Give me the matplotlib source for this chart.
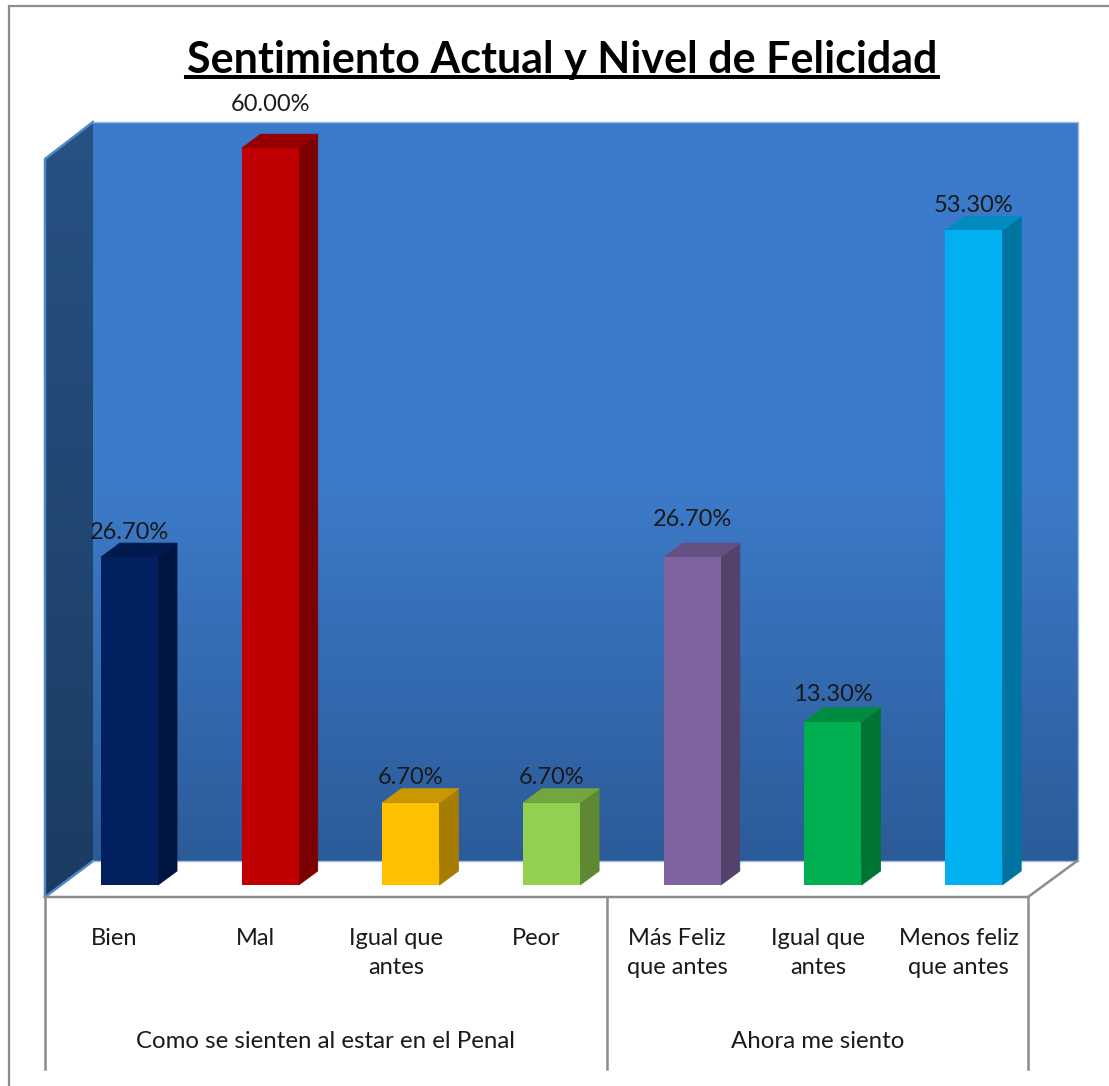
import numpy as np
import matplotlib
matplotlib.use('Agg')
import matplotlib.pyplot as plt
from matplotlib.patches import Polygon

plt.rcParams['font.family'] = ['Lato', 'DejaVu Sans']

# Datos
categorias = ['Bien', 'Mal', 'Igual que\nantes', 'Peor',
              'Más Feliz\nque antes', 'Igual que\nantes', 'Menos feliz\nque antes']
valores = [26.7, 60.0, 6.7, 6.7, 26.7, 13.3, 53.3]
etiquetas = ['26.70%', '60.00%', '6.70%', '6.70%', '26.70%', '13.30%', '53.30%']
grupos = ['Como se sienten al estar en el Penal', 'Ahora me siento']
titulo = 'Sentimiento Actual y Nivel de Felicidad'

# Colores de cada barra: frente, tapa, lado
col_frente = ['#00205f', '#c00000', '#ffc000', '#92d050', '#8064a2', '#00b050', '#00b0f0']
col_tapa = ['#001a4d', '#960000', '#c99700', '#74a63f', '#655082', '#008c40', '#008cbf']
col_lado = ['#00153f', '#7c0000', '#a67d00', '#5f8834', '#54426b', '#007434', '#0074a0']

W, H = 1109, 1086
fig = plt.figure(figsize=(W / 100, H / 100), dpi=100, facecolor='white')

# Ejes de fondo en pixeles (marco, paredes, lineas)
bg = fig.add_axes([0, 0, 1, 1])
bg.set_xlim(0, W)
bg.set_ylim(H, 0)
bg.axis('off')

gris = '#8c8c8c'
bg.plot([8.5, 8.5, W], [H, 6, 6], color=gris, lw=1.6, solid_joinstyle='miter')

# Pared del fondo con degradado
grad = np.linspace(0, 1, 256).reshape(-1, 1)
cmap_fondo = matplotlib.colors.LinearSegmentedColormap.from_list('f', ['#3b7bcb', '#3c7ac8', '#2c5b99'])
im = bg.imshow(grad, extent=[93, 1078, 861, 122], cmap=cmap_fondo, aspect='auto', zorder=1)
im.set_clip_path(Polygon([[93, 122], [1078, 122], [1078, 861], [93, 861]], transform=bg.transData))

# Pared izquierda
cmap_lado = matplotlib.colors.LinearSegmentedColormap.from_list('l', ['#275283', '#1b3c62'])
pared = [[45, 159], [93, 122], [93, 861], [45, 897]]
im2 = bg.imshow(grad, extent=[45, 93, 897, 122], cmap=cmap_lado, aspect='auto', zorder=1)
im2.set_clip_path(Polygon(pared, transform=bg.transData))
bg.plot([45, 45, 93], [897, 159, 122], color='#4f86c6', lw=1.8, zorder=2)
bg.plot([45, 93], [897, 861], color='#4f86c6', lw=1.8, zorder=2)
bg.plot([93, 1078, 1078], [122, 122, 861], color='#9fbce0', lw=1, zorder=2)
bg.plot([93, 1078], [861, 861], color='#9fbce0', lw=1, zorder=2)
bg.set_xlim(0, W)
bg.set_ylim(H, 0)

# Piso y divisiones del eje
bg.plot([45, 1028, 1077], [897, 897, 861], color=gris, lw=1.8, zorder=2)
for xv in [45, 607, 1028]:
    bg.plot([xv, xv], [897, 1069], color=gris, lw=1.8, zorder=2)

# Titulo subrayado
bg.text(562, 60, titulo, ha='center', va='center', fontsize=31, fontweight='bold', color='black', zorder=5)
bg.plot([186, 938], [77, 77], color='black', lw=2.9, zorder=5)

# Ejes de datos: 140.7 px por categoria, 12.28 px por punto
ax = fig.add_axes([0, 0, 1, 1])
ax.patch.set_alpha(0)
ax.axis('off')
paso_x, paso_y = 140.7, 12.28
ax.set_xlim(-129.5 / paso_x, (W - 129.5) / paso_x)
ax.set_ylim((885 - H) / paso_y, 885 / paso_y)

ancho = 57 / paso_x
dx, dy = 19 / paso_x, 14 / paso_y
pos = np.arange(len(valores))

# Primero lados y tapas, con borde fino para que no quede costura
for i, v in enumerate(valores):
    xi, xd = i - ancho / 2, i + ancho / 2
    ax.fill([xd, xd + dx, xd + dx, xd], [0, dy, v + dy, v], facecolor=col_lado[i],
            edgecolor=col_lado[i], lw=0.6, zorder=3)
    ax.fill([xi, xi + dx, xd + dx, xd], [v, v + dy, v + dy, v], facecolor=col_tapa[i],
            edgecolor=col_tapa[i], lw=0.6, zorder=3)
ax.bar(pos, valores, width=ancho, color=col_frente, zorder=4)

# Etiquetas de valor (separacion en pixeles sobre la barra)
sep = [26, 45, 26, 26, 39, 28, 26]
for i, v in enumerate(valores):
    ax.text(i, v + (sep[i] - 1) / paso_y, etiquetas[i], ha='center', va='center',
            fontsize=17, color='#1a1a1a', zorder=6)

# Etiquetas de categoria
y_cat = -(928 - 885) / paso_y
for i, c in enumerate(categorias):
    ax.text(i - 15 / paso_x, y_cat, c, ha='center', va='top',
            fontsize=17, color='#1a1a1a', linespacing=1.5, zorder=6)

# Etiquetas de grupo
y_grp = -(1042 - 885) / paso_y
ax.text(1.39, y_grp, grupos[0], ha='center', va='center', fontsize=17.3, color='#1a1a1a')
ax.text(4.89, y_grp, grupos[1], ha='center', va='center', fontsize=17.3, color='#1a1a1a')

fig.savefig('out.png', dpi=100)
